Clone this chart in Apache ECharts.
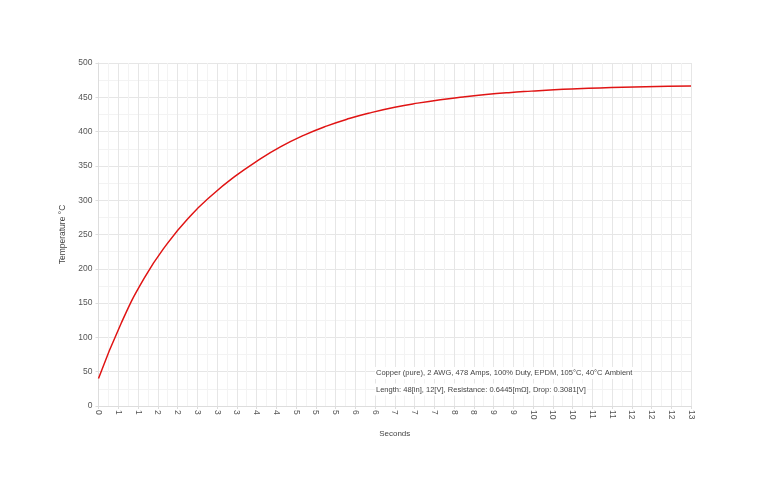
<!DOCTYPE html>
<html>
<head>
<meta charset="utf-8">
<title>Copper wire temperature</title>
<script src="https://cdn.jsdelivr.net/npm/echarts@6/dist/echarts.min.js"></script>
<style>
  html, body { margin: 0; padding: 0; background: #fff; }
  #chart { width: 774px; height: 500px; }
</style>
</head>
<body>
<div id="chart"></div>
<script>
// seconds sampled along the curve
const seconds = [0, 0.5, 1, 1.5, 2, 2.5, 3, 3.5, 4, 4.5, 5, 5.5, 6, 6.5,
  7, 7.5, 8, 8.5, 9, 9.5, 10, 10.5, 11, 11.5, 12, 12.5, 13];
// temperature in °C
const temperature = [40, 121, 186, 236, 276, 308, 335, 358, 378, 394.5, 408, 419, 428, 435.5,
  441.5, 446.5, 450.5, 454, 456.8, 459, 461, 462.5, 463.7, 464.7, 465.5, 466.1, 466.6];
// x tick labels as printed (31 ticks across 0..13 s)
const xTickLabels = ['0', '1', '1', '2', '2', '3', '3', '3', '4', '4', '5', '5', '5', '6', '6',
  '7', '7', '7', '8', '8', '9', '9', '10', '10', '10', '11', '11', '12', '12', '12', '13'];
const xMax = 13;
const annotationLines = [
  'Copper (pure), 2 AWG, 478 Amps, 100% Duty, EPDM, 105°C, 40°C Ambient',
  'Length: 48[in], 12[V], Resistance: 0.6445[mΩ], Drop: 0.3081[V]'
];

const xStep = xMax / (xTickLabels.length - 1);
const FONT = 'Liberation Sans';
const textColor = '#555';

const chart = echarts.init(document.getElementById('chart'), null, { renderer: 'canvas' });

chart.setOption({
  animation: false,
  textStyle: { fontFamily: FONT },
  grid: { left: 98.5, right: 83, top: 63, bottom: 94, containLabel: false },
  xAxis: {
    type: 'value',
    min: 0,
    max: xMax,
    interval: xStep,
    name: 'Seconds',
    nameLocation: 'middle',
    nameGap: 24,
    nameTextStyle: { fontSize: 8, color: '#444', fontFamily: FONT },
    axisLine: { show: true, lineStyle: { color: '#ddd' } },
    axisTick: { show: true, length: 3, lineStyle: { color: '#ddd' } },
    axisLabel: {
      rotate: -90,
      fontSize: 8.5,
      color: textColor,
      margin: 4,
      formatter: v => xTickLabels[Math.round(v / xStep)] || ''
    },
    splitLine: { show: true, lineStyle: { color: '#e6e6e6', width: 1 } },
    minorTick: { show: false, splitNumber: 2 },
    minorSplitLine: { show: true, lineStyle: { color: '#f3f3f3', width: 1 } }
  },
  yAxis: {
    type: 'value',
    min: 0,
    max: 500,
    interval: 50,
    name: 'Temperature °C',
    nameLocation: 'middle',
    nameRotate: 90,
    nameGap: 31,
    nameTextStyle: { fontSize: 8.5, color: '#444', fontFamily: FONT },
    axisLine: { show: true, lineStyle: { color: '#ddd' } },
    axisTick: { show: true, length: 3, lineStyle: { color: '#ddd' } },
    axisLabel: { fontSize: 8.5, color: textColor, margin: 6 },
    splitLine: { show: true, lineStyle: { color: '#e6e6e6', width: 1 } },
    minorTick: { show: false, splitNumber: 2 },
    minorSplitLine: { show: true, lineStyle: { color: '#f3f3f3', width: 1 } }
  },
  series: [{
    type: 'line',
    data: seconds.map((s, i) => [s, temperature[i]]),
    smooth: true,
    showSymbol: false,
    lineStyle: { color: '#e01414', width: 1.5 },
    z: 5
  }],
  // annotation block with white backing, like the original
  graphic: annotationLines.map((line, i) => ({
    type: 'text',
    x: 375,
    y: 373 + i * 16.5,
    scaleX: 0.945,
    z: 10,
    style: {
      text: line,
      fontSize: 8,
      fill: '#444',
      fontFamily: FONT,
      verticalAlign: 'middle',
      backgroundColor: '#fff',
      padding: [2, 1]
    }
  }))
});
</script>
</body>
</html>
